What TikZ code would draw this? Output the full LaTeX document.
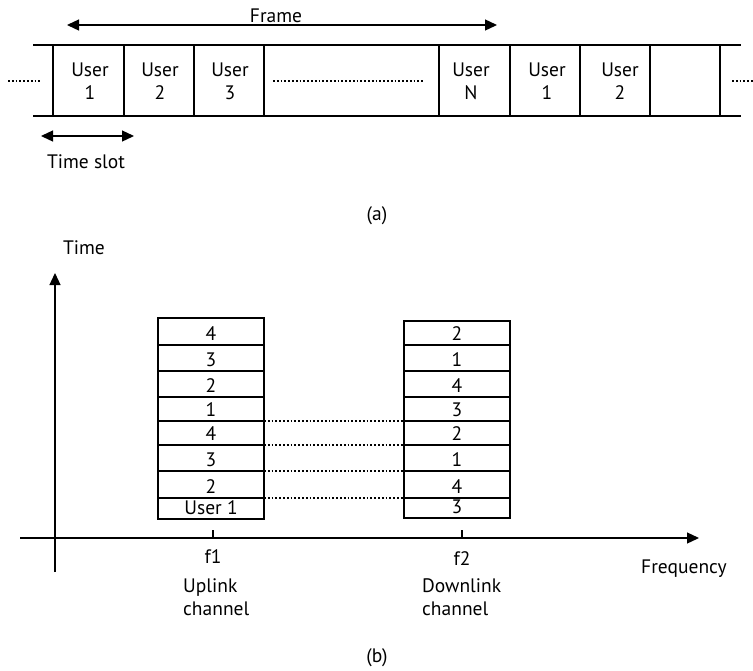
\documentclass[tikz,border=0pt]{standalone}
\usepackage{fontspec}
\setmainfont{PT Sans}
\usetikzlibrary{arrows.meta}
\begin{document}
\begin{tikzpicture}[x=1pt,y=-1pt,
  line/.style={line width=1.3pt},
  arr/.style={line width=1.3pt,-{Triangle[length=12pt,width=11pt]}},
  darr/.style={line width=1.3pt,{Triangle[length=12pt,width=11pt]}-{Triangle[length=12pt,width=11pt]}},
  dots/.style={line width=2pt,dash pattern=on 1.8pt off 2pt},
  txt/.style={font=\fontsize{19.5}{23}\selectfont,inner sep=0pt,anchor=base},
  cell/.style={draw,line width=1.3pt,inner sep=0pt,minimum width=106pt}
]
\useasboundingbox (0,0) rectangle (753,670);
% ---------- (a) ----------
\draw[line] (33,45) -- (741,45);
\draw[line] (33,116) -- (741,116);
\foreach \x in {53,124,194,264,439,510,580,650,720}
  \draw[line] (\x,45) -- (\x,116);
\node[txt,align=center] (u1) at (90,99) {User\\1};
\node[txt,align=center] (u2) at (160,99) {User\\2};
\node[txt,align=center] (u3) at (230,99) {User\\3};
\node[txt,align=center] (uN) at (471,99) {User\\N};
\node[txt,align=center] (u1b) at (547,99) {User\\1};
\node[txt,align=center] (u2b) at (620,99) {User\\2};
\coordinate (dl1) at (8,81); \coordinate (dl2) at (40,81);
\coordinate (dm1) at (273,81); \coordinate (dm2) at (424,81);
\coordinate (dr1) at (732,81); \coordinate (dr2) at (753,81);
\draw[dots] (dl1) -- (dl2);
\draw[dots] (dm1) -- (dm2);
\draw[dots] (dr1) -- (dr2);
\coordinate (fa) at (67,25); \coordinate (fb) at (497,25);
\draw[darr] (fa) -- (fb);
\node[txt] (frame) at (276,22) {Frame};
\coordinate (ta) at (41,136); \coordinate (tb) at (134,136);
\draw[darr] (ta) -- (tb);
\node[txt] (tslot) at (86,168) {Time slot};
\node[txt] (la) at (377,220) {(a)};
% ---------- (b) ----------
\coordinate (yo) at (55,572); \coordinate (yt) at (55,273);
\coordinate (xo) at (20,538); \coordinate (xt) at (699,538);
\draw[arr] (yo) -- (yt);
\draw[arr] (xo) -- (xt);
\node[txt] (time) at (84,254) {Time};
\node[txt] (freq) at (684,573) {Frequency};
\draw[line] (213,530) -- (213,538);
\draw[line] (462,530) -- (462,538);
\node[txt] (f1) at (213,563) {f1};
\node[txt] (f2) at (462,565) {f2};
\node[txt,anchor=base west,align=left] (up) at (183,615) {Uplink\\channel};
\node[txt,anchor=base west,align=left] (down) at (422,615) {Downlink\\channel};
% left stack
\def\ys{{318,345,371,397,421,445,471,498,519}}
\foreach \i/\t in {0/4,1/3,2/2,3/1,4/4,5/3,6/2,7/User 1}{
  \pgfmathsetmacro\ya{\ys[\i]}
  \pgfmathsetmacro\yb{\ys[\i+1]}
  \draw[line] (158,\ya) rectangle (264,\yb);
  \node[txt] (L\i) at (211,\yb-4.5) {\t};
}
% right stack
\def\zs{{321,345,371,397,421,445,471,498,518}}
\foreach \i/\t in {0/2,1/1,2/4,3/3,4/2,5/1,6/4,7/3}{
  \pgfmathsetmacro\ya{\zs[\i]}
  \pgfmathsetmacro\yb{\zs[\i+1]}
  \draw[line] (404,\ya) rectangle (510,\yb);
  \node[txt] (R\i) at (457,\yb-4.5) {\t};
}
\foreach \y in {421,445,471,498}{
  \coordinate (a\y) at (264,\y); \coordinate (b\y) at (404,\y);
  \draw[dots] (a\y) -- (b\y);
}
\node[txt] (lb) at (377,662) {(b)};
\end{tikzpicture}
\end{document}
